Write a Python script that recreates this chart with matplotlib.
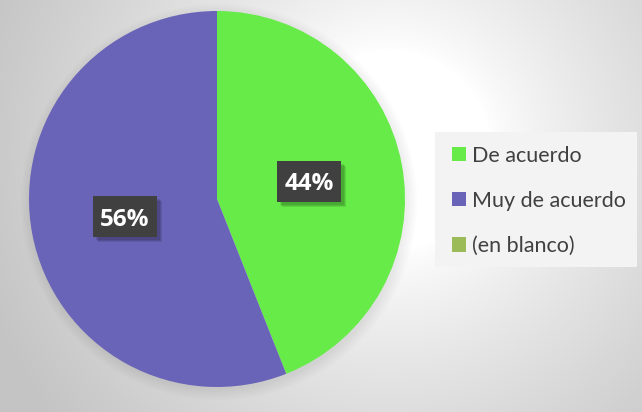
import numpy as np
import matplotlib
matplotlib.use("Agg")
import matplotlib.pyplot as plt
from matplotlib.patches import Circle, Rectangle

categories = ["De acuerdo", "Muy de acuerdo", "(en blanco)"]
values = [44, 56, 0]
colors = ["#66EB48", "#6A64B8", "#9BBB59"]

W, H = 642, 412
fig = plt.figure(figsize=(W / 100, H / 100), dpi=100)

# background gradient
bg = fig.add_axes([0, 0, 1, 1], zorder=0)
yy, xx = np.mgrid[0:H, 0:W]
d = np.sqrt((xx - 390) ** 2 + (yy - 150) ** 2)
val = 1 - 0.23 * np.clip((d - 100) / 330, 0, 1) ** 0.8
bg.imshow(np.dstack([val, val, val]), extent=[0, W, H, 0], aspect="auto")
bg.set_xlim(0, W)
bg.set_ylim(H, 0)
bg.axis("off")
# soft shadow under pie
for i in range(6):
    bg.add_patch(Circle((219, 202), 188 + i * 2.0, color="black", alpha=0.012, lw=0))

# legend frame
bg.add_patch(Rectangle((435, 132), 202, 135, color="#f3f3f3", lw=0))

cx, cy, r = 217, 199, 188
ax = fig.add_axes([(cx - r) / W, (H - cy - r) / H, 2 * r / W, 2 * r / H], zorder=1)
wedges, texts, autotexts = ax.pie(
    values, colors=colors, startangle=90, counterclock=False,
    autopct=lambda p: f"{p:.0f}%" if p > 0 else "", pctdistance=0.5,
    wedgeprops=dict(linewidth=0),
    textprops=dict(color="white", fontsize=17.5, fontweight="bold", family="Open Sans", zorder=5),
)
bw, bh = 64 / r, 41 / r
for t in autotexts:
    if t.get_text():
        x, y = t.get_position()
        for k, a in enumerate([0.10, 0.10, 0.10]):
            off = (3 + k) / r
            ax.add_patch(Rectangle((x - bw / 2 + off, y - bh / 2 - off), bw, bh,
                                   facecolor="black", alpha=a, lw=0, zorder=3))
        ax.add_patch(Rectangle((x - bw / 2, y - bh / 2), bw, bh,
                               facecolor="#404040", lw=0, zorder=4))
        t.set_verticalalignment("center_baseline")
ax.set_xlim(-1, 1)
ax.set_ylim(-1, 1)
ax.set_aspect("equal")
ax.axis("off")

fig.legend(wedges, categories, loc="upper left",
           bbox_to_anchor=(443 / W, 1 - 137 / H), borderaxespad=0,
           frameon=False, prop=dict(family="Lato", size=15.5),
           labelspacing=1.17, handlelength=0.65, handleheight=0.65,
           handletextpad=0.3, labelcolor="#404040")

fig.savefig("out.png", dpi=100)
